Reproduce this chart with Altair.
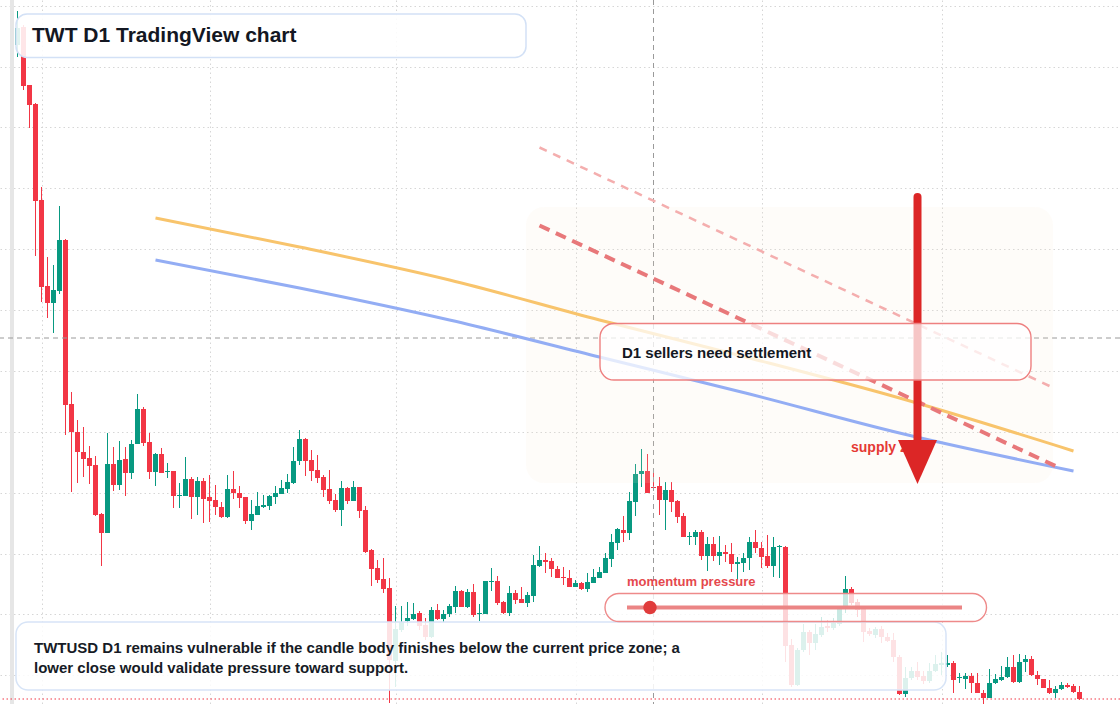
import altair as alt
import pandas as pd
import numpy as np

# ------------------------------------------------------------------ data
START_DATE = "2025-01-28"   # first daily candle

OPEN = [
    1.910, 1.946, 1.830, 1.792, 1.600, 1.428, 1.394, 1.418, 1.520, 1.192,
    1.136, 1.096, 1.084, 1.070, 0.972, 0.934, 1.072, 1.030, 1.082, 1.054,
    1.112, 1.182, 1.116, 1.056, 1.092, 1.056, 1.058, 1.008, 1.008, 1.042,
    1.006, 1.038, 1.006, 1.000, 0.986, 0.966, 1.022, 1.014, 1.006, 0.958,
    0.970, 0.986, 0.988, 1.006, 1.012, 1.022, 1.034, 1.078, 1.122, 1.080,
    1.060, 1.046, 1.022, 1.000, 0.980, 1.024, 0.998, 1.026, 0.980, 0.900,
    0.864, 0.842, 0.824, 0.678, 0.740, 0.758, 0.762, 0.774, 0.750, 0.726,
    0.780, 0.762, 0.772, 0.786, 0.818, 0.786, 0.816, 0.772, 0.772, 0.836,
    0.838, 0.796, 0.774, 0.814, 0.802, 0.794, 0.808, 0.868, 0.880, 0.878,
    0.862, 0.846, 0.844, 0.826, 0.834, 0.822, 0.834, 0.844, 0.854, 0.882,
    0.914, 0.940, 0.934, 0.996, 1.052, 1.058, 1.026, 1.028, 1.000, 1.020,
    0.998, 0.968, 0.926, 0.926, 0.936, 0.888, 0.912, 0.888, 0.896, 0.892,
    0.872, 0.874, 0.884, 0.916, 0.904, 0.888, 0.868, 0.906, 0.906, 0.710,
    0.630, 0.700, 0.736, 0.714, 0.730, 0.748, 0.744, 0.752, 0.784, 0.822,
    0.796, 0.786, 0.738, 0.730, 0.742, 0.726, 0.720, 0.686, 0.612, 0.644,
    0.658, 0.648, 0.638, 0.658, 0.670, 0.670, 0.674, 0.644, 0.642, 0.648,
    0.634, 0.614, 0.604, 0.634, 0.640, 0.646, 0.666, 0.636, 0.676, 0.682,
    0.650, 0.642, 0.624, 0.614, 0.622, 0.630, 0.628, 0.616,
]
HIGH = [
    1.978, 1.950, 1.830, 1.794, 1.626, 1.486, 1.470, 1.588, 1.522, 1.216,
    1.160, 1.146, 1.108, 1.088, 0.974, 1.134, 1.106, 1.118, 1.106, 1.120,
    1.212, 1.186, 1.134, 1.094, 1.104, 1.074, 1.058, 1.034, 1.086, 1.046,
    1.046, 1.044, 1.050, 1.030, 0.996, 1.050, 1.058, 1.028, 1.006, 1.000,
    1.016, 1.010, 1.010, 1.028, 1.040, 1.052, 1.106, 1.140, 1.124, 1.100,
    1.090, 1.050, 1.060, 1.012, 1.038, 1.026, 1.038, 1.026, 0.988, 0.902,
    0.880, 0.884, 0.844, 0.788, 0.788, 0.796, 0.794, 0.778, 0.764, 0.786,
    0.792, 0.780, 0.792, 0.828, 0.820, 0.822, 0.832, 0.792, 0.838, 0.864,
    0.848, 0.798, 0.828, 0.820, 0.826, 0.816, 0.890, 0.908, 0.894, 0.884,
    0.868, 0.866, 0.860, 0.840, 0.836, 0.854, 0.862, 0.866, 0.894, 0.932,
    0.944, 0.968, 1.016, 1.072, 1.102, 1.092, 1.054, 1.046, 1.036, 1.036,
    1.000, 0.974, 0.936, 0.940, 0.940, 0.926, 0.926, 0.928, 0.910, 0.914,
    0.886, 0.894, 0.926, 0.940, 0.916, 0.930, 0.926, 0.910, 0.908, 0.722,
    0.704, 0.752, 0.740, 0.752, 0.766, 0.760, 0.764, 0.770, 0.848, 0.826,
    0.802, 0.788, 0.744, 0.746, 0.748, 0.734, 0.734, 0.690, 0.666, 0.666,
    0.676, 0.658, 0.674, 0.690, 0.696, 0.690, 0.678, 0.654, 0.654, 0.654,
    0.654, 0.620, 0.662, 0.652, 0.668, 0.686, 0.690, 0.692, 0.690, 0.688,
    0.658, 0.642, 0.640, 0.628, 0.636, 0.634, 0.632, 0.628,
]
LOW = [
    1.886, 1.820, 1.744, 1.488, 1.396, 1.364, 1.334, 1.412, 1.130, 1.016,
    1.034, 1.046, 1.032, 0.968, 0.868, 0.934, 1.018, 1.020, 1.008, 1.042,
    1.112, 1.108, 1.042, 1.028, 1.054, 1.044, 0.984, 0.984, 1.008, 0.962,
    0.970, 0.954, 0.956, 0.970, 0.964, 0.964, 1.002, 0.984, 0.952, 0.940,
    0.970, 0.984, 0.980, 0.992, 1.012, 1.014, 1.032, 1.070, 1.048, 1.038,
    1.034, 1.006, 0.992, 0.976, 0.948, 0.992, 0.998, 0.964, 0.894, 0.828,
    0.834, 0.814, 0.594, 0.626, 0.736, 0.748, 0.760, 0.740, 0.720, 0.724,
    0.760, 0.756, 0.766, 0.774, 0.786, 0.784, 0.766, 0.758, 0.772, 0.818,
    0.790, 0.772, 0.768, 0.792, 0.794, 0.786, 0.796, 0.866, 0.854, 0.846,
    0.844, 0.830, 0.826, 0.826, 0.820, 0.816, 0.834, 0.844, 0.854, 0.866,
    0.900, 0.916, 0.920, 0.968, 1.026, 1.014, 1.020, 0.970, 0.940, 0.976,
    0.954, 0.926, 0.910, 0.910, 0.880, 0.858, 0.878, 0.870, 0.876, 0.856,
    0.840, 0.856, 0.860, 0.894, 0.864, 0.864, 0.846, 0.844, 0.676, 0.626,
    0.628, 0.696, 0.690, 0.700, 0.726, 0.736, 0.740, 0.748, 0.774, 0.790,
    0.766, 0.716, 0.728, 0.724, 0.714, 0.716, 0.676, 0.610, 0.606, 0.640,
    0.640, 0.632, 0.634, 0.656, 0.650, 0.666, 0.614, 0.634, 0.622, 0.614,
    0.614, 0.592, 0.604, 0.632, 0.638, 0.644, 0.634, 0.634, 0.656, 0.648,
    0.630, 0.624, 0.612, 0.604, 0.620, 0.624, 0.614, 0.600,
]
CLOSE = [
    1.944, 1.828, 1.790, 1.598, 1.426, 1.394, 1.420, 1.520, 1.190, 1.136,
    1.096, 1.082, 1.068, 0.970, 0.934, 1.072, 1.030, 1.080, 1.054, 1.112,
    1.182, 1.114, 1.056, 1.092, 1.054, 1.058, 1.008, 1.010, 1.042, 1.006,
    1.038, 1.002, 0.998, 0.986, 0.966, 1.022, 1.014, 1.004, 0.958, 0.972,
    0.988, 0.990, 1.008, 1.014, 1.024, 1.036, 1.078, 1.122, 1.078, 1.058,
    1.044, 1.020, 0.998, 0.980, 1.024, 0.998, 1.026, 0.978, 0.896, 0.862,
    0.840, 0.822, 0.680, 0.742, 0.756, 0.764, 0.772, 0.748, 0.726, 0.780,
    0.762, 0.772, 0.788, 0.818, 0.786, 0.816, 0.770, 0.774, 0.838, 0.838,
    0.794, 0.774, 0.814, 0.800, 0.794, 0.810, 0.870, 0.880, 0.876, 0.862,
    0.844, 0.844, 0.826, 0.834, 0.822, 0.836, 0.846, 0.856, 0.884, 0.916,
    0.942, 0.934, 0.998, 1.052, 1.058, 1.014, 1.024, 1.000, 1.020, 0.996,
    0.966, 0.926, 0.928, 0.936, 0.888, 0.912, 0.888, 0.896, 0.892, 0.872,
    0.876, 0.884, 0.916, 0.904, 0.886, 0.868, 0.906, 0.908, 0.708, 0.630,
    0.700, 0.736, 0.714, 0.732, 0.746, 0.744, 0.754, 0.784, 0.822, 0.794,
    0.780, 0.736, 0.732, 0.742, 0.726, 0.718, 0.686, 0.612, 0.644, 0.658,
    0.646, 0.638, 0.658, 0.672, 0.674, 0.674, 0.640, 0.646, 0.648, 0.634,
    0.614, 0.604, 0.634, 0.642, 0.646, 0.666, 0.636, 0.676, 0.682, 0.650,
    0.642, 0.624, 0.614, 0.622, 0.630, 0.626, 0.616, 0.602,
]

# visible time window and hidden price-axis grid values
X_START = "2025-01-25T02:00:00Z"
X_END = "2025-07-30T18:00:00Z"
PRICE_RANGE = [0.592, 2.0]
GRID_PRICES = [1.988, 1.866, 1.745, 1.623, 1.501, 1.380, 1.258, 1.136,
               1.015, 0.893, 0.772, 0.650]

# two smoothed trend curves
CURVE_DATES = ["2025-02-20", "2025-03-16", "2025-04-10", "2025-05-05",
               "2025-05-30", "2025-06-24", "2025-07-23"]
ORANGE_CURVE = [1.564, 1.506, 1.440, 1.360, 1.284, 1.204, 1.098]
BLUE_CURVE = [1.480, 1.424, 1.360, 1.286, 1.212, 1.134, 1.058]

# descending seller trendlines
SELL_DATES = ["2025-04-25", "2025-07-20"]
SELL_LINE = [1.549, 1.068]
UPPER_DATES = ["2025-04-25", "2025-07-19"]
UPPER_LINE = [1.705, 1.228]

# arrow
ARROW_DATE = "2025-06-27"
ARROW_TOP = 1.606
ARROW_BASE = 1.100
ARROW_HEAD = 1.076

# crosshair
CROSS_DATE = "2025-05-14"
CROSS_PRICE = 1.324

TITLE = "TWT D1 TradingView chart"
BOX_LABEL = "D1 sellers need settlement"
ZONE_LABEL = "supply zone"
PILL_LABEL = "momentum pressure"
NOTE_LINES = [
    "TWTUSD D1 remains vulnerable if the candle body finishes below the current price zone; a",
    "lower close would validate pressure toward support.",
]

# ------------------------------------------------------------------ frames
def ms(s):
    return int(pd.Timestamp(s).value // 10**6)


dates = pd.date_range(START_DATE, periods=len(OPEN), freq="D", tz="UTC")
candles = pd.DataFrame({"t": [ms(d) for d in dates], "open": OPEN,
                        "high": HIGH, "low": LOW, "close": CLOSE})
candles["dir"] = np.where(candles["close"] >= candles["open"], "up", "down")


def tdf(date_list, **cols):
    d = {"t": [ms(pd.Timestamp(x, tz="UTC")) for x in date_list]}
    d.update(cols)
    return pd.DataFrame(d)


orange_df = tdf(CURVE_DATES, price=ORANGE_CURVE)
blue_df = tdf(CURVE_DATES, price=BLUE_CURVE)
sell_df = tdf(SELL_DATES, price=SELL_LINE)
upper_df = tdf(UPPER_DATES, price=UPPER_LINE)
arrow_df = tdf([ARROW_DATE], top=[ARROW_TOP], base=[ARROW_BASE], head=[ARROW_HEAD])
cross_x = tdf([CROSS_DATE])
cross_y = pd.DataFrame({"price": [CROSS_PRICE]})
last_df = pd.DataFrame({"price": [CLOSE[-1]]})
ONE = pd.DataFrame({"k": [0]})

# ------------------------------------------------------------------ styling
FONT = "Liberation Sans"
UP, DOWN = "#089981", "#F23645"
GRID = "#d6d6d6"

X_SCALE = alt.Scale(type="utc", domain=[ms(X_START), ms(X_END)], padding=0)
Y_SCALE = alt.Scale(domain=PRICE_RANGE, zero=False, nice=False, padding=0)
X_AXIS = alt.Axis(title=None, labels=False, ticks=False, domain=False,
                  grid=True, gridColor=GRID, gridDash=[1.5, 3], gridWidth=1,
                  tickCount="month")
Y_AXIS = alt.Axis(title=None, labels=False, ticks=False, domain=False,
                  grid=True, gridColor=GRID, gridDash=[1.5, 3], gridWidth=1,
                  values=GRID_PRICES)


def X(field="t"):
    return alt.X(f"{field}:T", scale=X_SCALE, axis=X_AXIS)


def Y(field):
    return alt.Y(f"{field}:Q", scale=Y_SCALE, axis=Y_AXIS)


def box(x0, x1, y0, y1, **kw):
    return alt.Chart(ONE).mark_rect(**kw).encode(
        x=alt.value(x0), x2=alt.value(x1), y=alt.value(y0), y2=alt.value(y1))


def label(text, x, y, size, color, **kw):
    return alt.Chart(ONE).mark_text(
        text=text, align="left", baseline="middle", font=FONT,
        fontSize=size, fontWeight="bold", color=color, **kw
    ).encode(x=alt.value(x), y=alt.value(y))


color_enc = alt.Color("dir:N", scale=alt.Scale(domain=["up", "down"],
                                                 range=[UP, DOWN]), legend=None)

# ------------------------------------------------------------------ layers
left_bar = box(10, 14, 0, 704, fill="#e6e6e6")

cross_v = alt.Chart(cross_x).mark_rule(color="#9a9a9a", strokeDash=[5, 4],
                                       strokeWidth=1).encode(x=X())
cross_h = alt.Chart(cross_y).mark_rule(color="#9a9a9a", strokeDash=[5, 4],
                                       strokeWidth=1).encode(y=Y("price"))
price_line = alt.Chart(last_df).mark_rule(color=DOWN, strokeDash=[1.5, 2.5],
                                          strokeWidth=1.2).encode(y=Y("price"))

wicks = alt.Chart(candles).mark_rule(strokeWidth=1).encode(
    x=X(), y=Y("low"), y2="high", color=color_enc)
bodies = alt.Chart(candles).mark_bar(size=5).encode(
    x=X(), y=Y("open"), y2="close", color=color_enc)

zone_bg = box(526, 1053, 207, 483, fill="#f8e6d4", fillOpacity=0.13,
              cornerRadius=18)

orange = alt.Chart(orange_df).mark_line(color="#F8C46C", strokeWidth=3,
                                        interpolate="monotone").encode(
    x=X(), y=Y("price"))
blue = alt.Chart(blue_df).mark_line(color="#93ADF4", strokeWidth=3,
                                    interpolate="monotone").encode(
    x=X(), y=Y("price"))
upper = alt.Chart(upper_df).mark_line(color="#F4AEAE", strokeWidth=2.5,
                                      strokeDash=[8, 7]).encode(
    x=X(), y=Y("price"))
sell = alt.Chart(sell_df).mark_line(color="#E8787A", strokeWidth=4,
                                    strokeDash=[11, 7]).encode(
    x=X(), y=Y("price"))

zone_text = label(ZONE_LABEL, 851, 448, 14, "#E53935")

arrow_line = alt.Chart(arrow_df).mark_rule(color="#DC2626", strokeWidth=8,
                                           strokeCap="round").encode(
    x=X(), y=Y("top"), y2="base")
arrow_head = alt.Chart(arrow_df).mark_point(
    shape="M-0.886,-1L0.886,-1L0,1Z", size=1936, filled=True,
    fill="#DC2626", opacity=1, strokeWidth=0).encode(x=X(), y=Y("head"))

sell_box = box(600, 1031, 323.5, 380, fill="white", fillOpacity=0.74,
               stroke="#EE8080", strokeWidth=1.4, cornerRadius=14)
sell_text = label(BOX_LABEL, 622, 353, 15, "#131722")

title_box = box(16, 526, 14, 57.5, fill="white", fillOpacity=0.88,
                stroke="#d3e1f6", strokeWidth=1.5, cornerRadius=11)
title_text = label(TITLE, 32, 36, 21, "#131722")

note_box = box(16, 946, 622, 690, fill="white", fillOpacity=0.86,
               stroke="#d7e4f7", strokeWidth=1.5, cornerRadius=12)
note1 = label(NOTE_LINES[0], 34, 647.5, 15, "#161b26")
note2 = label(NOTE_LINES[1], 34, 667.5, 15, "#161b26")

pill_text = label(PILL_LABEL, 627, 582, 13, "#E5484D")
pill = box(605, 986.5, 593.5, 621.5, fill="white", fillOpacity=0.78,
           stroke="#EE8A8A", strokeWidth=1.4, cornerRadius=14)
pill_line = alt.Chart(ONE).mark_rule(color="#EB8585", strokeWidth=4).encode(
    x=alt.value(627), x2=alt.value(962), y=alt.value(607.5))
pill_dot = alt.Chart(ONE).mark_point(shape="circle", size=180, filled=True,
                                     fill="#E03C3C", opacity=1,
                                     strokeWidth=0).encode(
    x=alt.value(650), y=alt.value(607.5))

chart = alt.layer(
    wicks, bodies, left_bar, cross_v, cross_h, price_line,
    zone_bg, orange, blue, upper, sell, zone_text, arrow_line, arrow_head,
    sell_box, sell_text, title_box, title_text, note_box, note1, note2,
    pill_text, pill, pill_line, pill_dot,
).properties(
    width=1120, height=704, padding=0, background="white",
    autosize=alt.AutoSizeParams(type="none"),
).configure_view(stroke=None)

chart.save("out.html", embed_options={"renderer": "svg", "actions": False})
